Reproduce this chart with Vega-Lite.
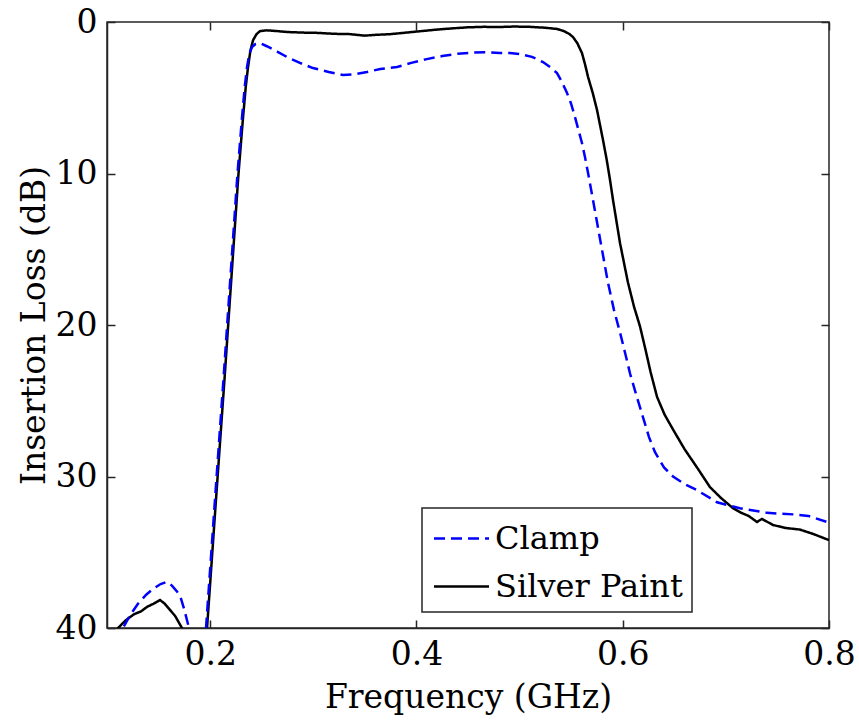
{
  "$schema": "https://vega.github.io/schema/vega-lite/v6.json",
  "width": 722,
  "height": 606,
  "autosize": {"type": "none"},
  "padding": {"left": 107, "top": 22, "right": 30, "bottom": 93},
  "background": "white",
  "config": {
    "font": "DejaVu Serif",
    "view": {"stroke": "#262626", "strokeWidth": 1.5},
    "axis": {
      "labelFont": "DejaVu Serif", "titleFont": "DejaVu Serif",
      "labelFontSize": 33, "titleFontSize": 33, "titleFontWeight": "normal",
      "labelColor": "black", "titleColor": "black",
      "domainColor": "#262626", "domainWidth": 1.5,
      "tickColor": "#262626", "tickWidth": 1.5, "tickSize": -8,
      "grid": false, "labelFlush": false, "labelOverlap": false
    },
    "legend": {
      "strokeColor": "#262626", "strokeWidth": 1.5, "fillColor": "white",
      "padding": 9, "labelFont": "DejaVu Serif", "labelFontSize": 32, "labelColor": "black", "labelLimit": 400,
      "symbolType": "M-1.375,0H1.375", "symbolSize": 1600, "symbolStrokeWidth": 2.5,
      "symbolOffset": 9, "labelOffset": 12, "rowPadding": 10, "cornerRadius": 0
    }
  },
  "datasets": {
    "curves": [
      {"f":0.100,"loss":41.5,"series":"Silver Paint"},
      {"f":0.1107,"loss":40.0,"series":"Silver Paint"},
      {"f":0.118,"loss":39.5,"series":"Silver Paint"},
      {"f":0.126,"loss":39.1,"series":"Silver Paint"},
      {"f":0.133,"loss":38.9,"series":"Silver Paint"},
      {"f":0.139,"loss":38.6,"series":"Silver Paint"},
      {"f":0.145,"loss":38.4,"series":"Silver Paint"},
      {"f":0.1514,"loss":38.15,"series":"Silver Paint"},
      {"f":0.156,"loss":38.4,"series":"Silver Paint"},
      {"f":0.161,"loss":38.8,"series":"Silver Paint"},
      {"f":0.166,"loss":39.2,"series":"Silver Paint"},
      {"f":0.1727,"loss":40.0,"series":"Silver Paint"},
      {"f":0.178,"loss":42,"series":"Silver Paint"},
      {"f":0.193,"loss":42,"series":"Silver Paint"},
      {"f":0.197,"loss":40.0,"series":"Silver Paint"},
      {"f":0.2057,"loss":31.5,"series":"Silver Paint"},
      {"f":0.214,"loss":23.5,"series":"Silver Paint"},
      {"f":0.222,"loss":15.5,"series":"Silver Paint"},
      {"f":0.2275,"loss":10.0,"series":"Silver Paint"},
      {"f":0.2319,"loss":6.3,"series":"Silver Paint"},
      {"f":0.2345,"loss":4.3,"series":"Silver Paint"},
      {"f":0.2367,"loss":3.0,"series":"Silver Paint"},
      {"f":0.239,"loss":1.9,"series":"Silver Paint"},
      {"f":0.2416,"loss":1.2,"series":"Silver Paint"},
      {"f":0.245,"loss":0.8,"series":"Silver Paint"},
      {"f":0.2483,"loss":0.6,"series":"Silver Paint"},
      {"f":0.255,"loss":0.55,"series":"Silver Paint"},
      {"f":0.265,"loss":0.6,"series":"Silver Paint"},
      {"f":0.2745,"loss":0.66,"series":"Silver Paint"},
      {"f":0.29,"loss":0.7,"series":"Silver Paint"},
      {"f":0.305,"loss":0.72,"series":"Silver Paint"},
      {"f":0.32,"loss":0.78,"series":"Silver Paint"},
      {"f":0.335,"loss":0.8,"series":"Silver Paint"},
      {"f":0.35,"loss":0.9,"series":"Silver Paint"},
      {"f":0.36,"loss":0.85,"series":"Silver Paint"},
      {"f":0.375,"loss":0.8,"series":"Silver Paint"},
      {"f":0.39,"loss":0.7,"series":"Silver Paint"},
      {"f":0.405,"loss":0.6,"series":"Silver Paint"},
      {"f":0.42,"loss":0.5,"series":"Silver Paint"},
      {"f":0.435,"loss":0.42,"series":"Silver Paint"},
      {"f":0.45,"loss":0.35,"series":"Silver Paint"},
      {"f":0.465,"loss":0.32,"series":"Silver Paint"},
      {"f":0.481,"loss":0.33,"series":"Silver Paint"},
      {"f":0.495,"loss":0.3,"series":"Silver Paint"},
      {"f":0.51,"loss":0.32,"series":"Silver Paint"},
      {"f":0.525,"loss":0.38,"series":"Silver Paint"},
      {"f":0.5363,"loss":0.46,"series":"Silver Paint"},
      {"f":0.543,"loss":0.6,"series":"Silver Paint"},
      {"f":0.548,"loss":0.78,"series":"Silver Paint"},
      {"f":0.5518,"loss":0.99,"series":"Silver Paint"},
      {"f":0.556,"loss":1.4,"series":"Silver Paint"},
      {"f":0.5605,"loss":2.05,"series":"Silver Paint"},
      {"f":0.5635,"loss":2.8,"series":"Silver Paint"},
      {"f":0.5664,"loss":3.63,"series":"Silver Paint"},
      {"f":0.571,"loss":4.7,"series":"Silver Paint"},
      {"f":0.5751,"loss":5.81,"series":"Silver Paint"},
      {"f":0.578,"loss":6.8,"series":"Silver Paint"},
      {"f":0.5809,"loss":7.79,"series":"Silver Paint"},
      {"f":0.5845,"loss":9.1,"series":"Silver Paint"},
      {"f":0.5877,"loss":10.43,"series":"Silver Paint"},
      {"f":0.5906,"loss":11.75,"series":"Silver Paint"},
      {"f":0.5974,"loss":14.6,"series":"Silver Paint"},
      {"f":0.6051,"loss":17.2,"series":"Silver Paint"},
      {"f":0.611,"loss":18.8,"series":"Silver Paint"},
      {"f":0.6168,"loss":20.1,"series":"Silver Paint"},
      {"f":0.622,"loss":21.6,"series":"Silver Paint"},
      {"f":0.627,"loss":23.1,"series":"Silver Paint"},
      {"f":0.6333,"loss":24.75,"series":"Silver Paint"},
      {"f":0.6405,"loss":25.9,"series":"Silver Paint"},
      {"f":0.6488,"loss":26.9,"series":"Silver Paint"},
      {"f":0.66,"loss":28.2,"series":"Silver Paint"},
      {"f":0.672,"loss":29.4,"series":"Silver Paint"},
      {"f":0.6846,"loss":30.7,"series":"Silver Paint"},
      {"f":0.695,"loss":31.4,"series":"Silver Paint"},
      {"f":0.707,"loss":32.1,"series":"Silver Paint"},
      {"f":0.715,"loss":32.4,"series":"Silver Paint"},
      {"f":0.722,"loss":32.6,"series":"Silver Paint"},
      {"f":0.7302,"loss":33.0,"series":"Silver Paint"},
      {"f":0.735,"loss":32.8,"series":"Silver Paint"},
      {"f":0.7457,"loss":33.2,"series":"Silver Paint"},
      {"f":0.758,"loss":33.4,"series":"Silver Paint"},
      {"f":0.7716,"loss":33.5,"series":"Silver Paint"},
      {"f":0.785,"loss":33.8,"series":"Silver Paint"},
      {"f":0.8,"loss":34.2,"series":"Silver Paint"},

      {"f":0.105,"loss":42,"series":"Clamp"},
      {"f":0.1155,"loss":40.0,"series":"Clamp"},
      {"f":0.122,"loss":39.2,"series":"Clamp"},
      {"f":0.13,"loss":38.4,"series":"Clamp"},
      {"f":0.138,"loss":37.8,"series":"Clamp"},
      {"f":0.145,"loss":37.4,"series":"Clamp"},
      {"f":0.152,"loss":37.1,"series":"Clamp"},
      {"f":0.158,"loss":36.95,"series":"Clamp"},
      {"f":0.163,"loss":37.2,"series":"Clamp"},
      {"f":0.168,"loss":37.6,"series":"Clamp"},
      {"f":0.1715,"loss":38.0,"series":"Clamp"},
      {"f":0.175,"loss":38.8,"series":"Clamp"},
      {"f":0.178,"loss":39.6,"series":"Clamp"},
      {"f":0.1795,"loss":40.0,"series":"Clamp"},
      {"f":0.182,"loss":42,"series":"Clamp"},
      {"f":0.192,"loss":42,"series":"Clamp"},
      {"f":0.196,"loss":40.0,"series":"Clamp"},
      {"f":0.2047,"loss":31.5,"series":"Clamp"},
      {"f":0.213,"loss":23.5,"series":"Clamp"},
      {"f":0.221,"loss":15.5,"series":"Clamp"},
      {"f":0.2265,"loss":10.0,"series":"Clamp"},
      {"f":0.2309,"loss":6.3,"series":"Clamp"},
      {"f":0.2335,"loss":4.3,"series":"Clamp"},
      {"f":0.2357,"loss":3.0,"series":"Clamp"},
      {"f":0.238,"loss":2.1,"series":"Clamp"},
      {"f":0.2406,"loss":1.65,"series":"Clamp"},
      {"f":0.244,"loss":1.45,"series":"Clamp"},
      {"f":0.2483,"loss":1.39,"series":"Clamp"},
      {"f":0.255,"loss":1.6,"series":"Clamp"},
      {"f":0.265,"loss":1.95,"series":"Clamp"},
      {"f":0.2745,"loss":2.31,"series":"Clamp"},
      {"f":0.287,"loss":2.7,"series":"Clamp"},
      {"f":0.2997,"loss":3.04,"series":"Clamp"},
      {"f":0.315,"loss":3.3,"series":"Clamp"},
      {"f":0.3288,"loss":3.5,"series":"Clamp"},
      {"f":0.34,"loss":3.45,"series":"Clamp"},
      {"f":0.3521,"loss":3.3,"series":"Clamp"},
      {"f":0.365,"loss":3.1,"series":"Clamp"},
      {"f":0.3812,"loss":2.97,"series":"Clamp"},
      {"f":0.395,"loss":2.7,"series":"Clamp"},
      {"f":0.41,"loss":2.45,"series":"Clamp"},
      {"f":0.425,"loss":2.25,"series":"Clamp"},
      {"f":0.44,"loss":2.1,"series":"Clamp"},
      {"f":0.455,"loss":2.02,"series":"Clamp"},
      {"f":0.47,"loss":2.0,"series":"Clamp"},
      {"f":0.481,"loss":2.05,"series":"Clamp"},
      {"f":0.4905,"loss":2.05,"series":"Clamp"},
      {"f":0.5004,"loss":2.11,"series":"Clamp"},
      {"f":0.512,"loss":2.3,"series":"Clamp"},
      {"f":0.5227,"loss":2.64,"series":"Clamp"},
      {"f":0.53,"loss":3.0,"series":"Clamp"},
      {"f":0.5363,"loss":3.37,"series":"Clamp"},
      {"f":0.541,"loss":3.95,"series":"Clamp"},
      {"f":0.546,"loss":4.69,"series":"Clamp"},
      {"f":0.55,"loss":5.4,"series":"Clamp"},
      {"f":0.5537,"loss":6.27,"series":"Clamp"},
      {"f":0.557,"loss":7.1,"series":"Clamp"},
      {"f":0.5605,"loss":7.99,"series":"Clamp"},
      {"f":0.5635,"loss":8.95,"series":"Clamp"},
      {"f":0.5664,"loss":9.97,"series":"Clamp"},
      {"f":0.5712,"loss":11.75,"series":"Clamp"},
      {"f":0.5785,"loss":14.5,"series":"Clamp"},
      {"f":0.5857,"loss":17.2,"series":"Clamp"},
      {"f":0.5915,"loss":19.0,"series":"Clamp"},
      {"f":0.5974,"loss":20.5,"series":"Clamp"},
      {"f":0.6025,"loss":21.9,"series":"Clamp"},
      {"f":0.6071,"loss":23.2,"series":"Clamp"},
      {"f":0.6135,"loss":24.7,"series":"Clamp"},
      {"f":0.6197,"loss":26.1,"series":"Clamp"},
      {"f":0.6255,"loss":27.4,"series":"Clamp"},
      {"f":0.6313,"loss":28.4,"series":"Clamp"},
      {"f":0.64,"loss":29.4,"series":"Clamp"},
      {"f":0.6488,"loss":30.0,"series":"Clamp"},
      {"f":0.66,"loss":30.5,"series":"Clamp"},
      {"f":0.672,"loss":30.9,"series":"Clamp"},
      {"f":0.6914,"loss":31.7,"series":"Clamp"},
      {"f":0.7137,"loss":32.1,"series":"Clamp"},
      {"f":0.7399,"loss":32.4,"series":"Clamp"},
      {"f":0.7651,"loss":32.5,"series":"Clamp"},
      {"f":0.78,"loss":32.6,"series":"Clamp"},
      {"f":0.798,"loss":33.0,"series":"Clamp"},
      {"f":0.8,"loss":33.05,"series":"Clamp"}
    ]
  },
  "data": {"name": "curves"},
  "layer": [
    {
      "mark": {"type": "line", "clip": true, "strokeWidth": 2.5},
      "encoding": {
        "x": {"field": "f", "type": "quantitative",
              "scale": {"domain": [0.1, 0.8], "nice": false, "zero": false},
              "axis": {"values": [0.2, 0.4, 0.6, 0.8], "format": ".1f", "title": "Frequency (GHz)", "labelPadding": 18, "titlePadding": 10}},
        "y": {"field": "loss", "type": "quantitative",
              "scale": {"domain": [0, 40], "reverse": true, "nice": false, "zero": false},
              "axis": {"values": [0, 10, 20, 30, 40], "title": "Insertion Loss (dB)", "labelPadding": 18, "titlePadding": 4}},
        "color": {"field": "series", "type": "nominal",
                  "scale": {"domain": ["Clamp", "Silver Paint"], "range": ["#0000ff", "#000000"]},
                  "legend": {"title": null, "orient": "none", "legendX": 315, "legendY": 486}},
        "strokeDash": {"field": "series", "type": "nominal",
                  "scale": {"domain": ["Clamp", "Silver Paint"], "range": [[11, 6], [1, 0]]},
                  "legend": {"title": null, "orient": "none", "legendX": 315, "legendY": 486}}
      }
    },
    {
      "mark": {"type": "point", "opacity": 0},
      "encoding": {
        "x": {"field": "f", "type": "quantitative",
              "axis": {"orient": "top", "values": [0.2, 0.4, 0.6, 0.8], "labels": false, "title": null, "domain": false}},
        "y": {"field": "loss", "type": "quantitative",
              "axis": {"orient": "right", "values": [0, 10, 20, 30, 40], "labels": false, "title": null, "domain": false}}
      }
    }
  ],
  "resolve": {"axis": {"x": "independent", "y": "independent"}}
}
